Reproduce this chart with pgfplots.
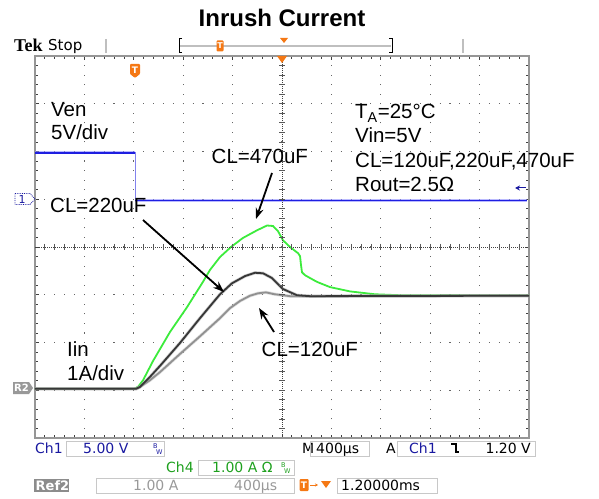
\documentclass[border=0pt]{standalone}
\usepackage{fontspec}
\setmainfont{Liberation Sans}
\newfontfamily\scopefont{DejaVu Sans}
\newfontfamily\tekfont{Liberation Serif}
\usepackage{pgfplots}
\pgfplotsset{compat=1.18}
\usetikzlibrary{arrows.meta}

\definecolor{venblue}{RGB}{30,30,225}
\definecolor{venhalo}{RGB}{140,140,255}
\definecolor{cl470}{RGB}{60,235,60}
\definecolor{cl220}{RGB}{55,55,55}
\definecolor{cl120}{RGB}{145,145,145}
\definecolor{chblue}{RGB}{25,25,160}
\definecolor{chgreen}{RGB}{30,160,30}
\definecolor{scopeorange}{RGB}{245,120,20}
\definecolor{framegray}{RGB}{150,150,150}
\definecolor{boxgray}{RGB}{200,200,200}

\newcommand{\ann}{\fontsize{20.5}{24}\selectfont}
\newcommand{\scp}{\scopefont\fontsize{14}{16}\selectfont}

\pgfplotstableread{
t i
-0.8 0
0.00 0
0.034 0.04
0.075 0.18
0.155 0.58
0.293 1.19
0.431 1.71
0.560 2.24
0.617 2.49
0.698 2.76
0.787 2.97
0.884 3.16
0.998 3.32
1.079 3.42
1.127 3.41
1.168 3.30
1.208 3.11
1.265 2.97
1.330 2.84
1.346 2.78
1.354 2.59
1.362 2.44
1.386 2.38
1.427 2.32
1.483 2.24
1.589 2.13
1.751 2.04
1.953 1.98
2.156 1.96
3.2 1.96
}\cfourseventy

\pgfplotstableread{
t i
-0.8 0
0.018 0
0.050 0.04
0.131 0.25
0.212 0.48
0.374 0.96
0.536 1.48
0.698 1.98
0.795 2.21
0.900 2.36
0.981 2.43
1.046 2.42
1.119 2.32
1.208 2.09
1.321 1.96
1.427 1.94
3.2 1.95
}\ctwotwenty

\pgfplotstableread{
t i
-0.8 0
0.018 0
0.050 0.04
0.131 0.18
0.212 0.35
0.374 0.73
0.536 1.10
0.698 1.48
0.779 1.69
0.860 1.84
0.941 1.95
1.006 2.00
1.070 2.02
1.143 1.98
1.265 1.94
1.346 1.94
3.2 1.95
}\conetwenty

\begin{document}
\begin{tikzpicture}
\useasboundingbox (0,0) rectangle (599pt,498pt);

% current traces, 1 A/div, time in ms (400 us/div)
\begin{axis}[
  at={(35pt,60pt)}, anchor=south west,
  width=494pt, height=382pt, scale only axis,
  xmin=-0.8, xmax=3.2, ymin=-1.03, ymax=6.97,
  xtick={-0.8,-0.4,0,0.4,0.8,1.2,1.6,2.0,2.4,2.8,3.2},
  ytick={-1.03,-0.03,0.97,1.97,2.97,3.97,4.97,5.97,6.97},
  minor x tick num=4, minor y tick num=4,
  xticklabels={}, yticklabels={},
  tick align=inside,
  major tick length=3.5pt, minor tick length=3pt,
  tick style={black!75, line width=0.8pt},
  axis line style={framegray, line width=2.5pt},
  xmajorgrids, ymajorgrids,
  x grid style={black!60, line width=1.1pt, dash pattern=on 1.1pt off 8.45pt, dash phase=0.55pt},
  y grid style={black!60, line width=1.1pt, dash pattern=on 1.1pt off 8.78pt, dash phase=0.55pt},
]
% CL=470uF
\addplot[cl470, line width=1.8pt] table[x=t, y=i] {\cfourseventy};
% CL=120uF
\addplot[cl120!60, line width=3.2pt, opacity=0.5] table[x=t, y=i] {\conetwenty};
\addplot[cl120, line width=1.8pt] table[x=t, y=i] {\conetwenty};
% CL=220uF
\addplot[cl220!50, line width=3.2pt, opacity=0.5] table[x=t, y=i] {\ctwotwenty};
\addplot[cl220, line width=1.8pt] table[x=t, y=i] {\ctwotwenty};
\end{axis}

% enable voltage, 5 V/div
\begin{axis}[
  at={(35pt,60pt)}, anchor=south west,
  width=494pt, height=382pt, scale only axis,
  xmin=-0.8, xmax=3.2, ymin=-24.88, ymax=15.12,
  hide axis,
]
\addplot[venblue!55, line width=0.8pt] table {
-0.8 4.98
0.01 4.98
0.01 0
3.184 0
};
\addplot[venhalo, line width=3.2pt, opacity=0.6] table {
-0.8 4.98
0.01 4.98
};
\addplot[venhalo, line width=3.2pt, opacity=0.6] table {
0.01 0
3.184 0
};
\addplot[venblue, line width=1.5pt] table {
-0.8 4.98
0.01 4.98
};
\addplot[venblue, line width=1.5pt] table {
0.01 0
3.184 0
};
\end{axis}

% everything else in screen pixels, y downwards
\begin{scope}[x=1pt, y=-1pt, shift={(0pt,498pt)}]
  % centre cross of the graticule
  \draw[black!75, line width=0.9pt, dash pattern=on 1pt off 1pt] (35,247) -- (529,247);
  \draw[black!75, line width=0.9pt, dash pattern=on 1pt off 1pt] (282,56) -- (282,438);
  \foreach \i in {1,...,49}
    \draw[black!65, line width=0.8pt] ({35+\i*9.88},244) -- ({35+\i*9.88},250);
  \foreach \i in {1,...,39}
    \draw[black!65, line width=0.8pt] (279,{56+\i*9.55}) -- (285,{56+\i*9.55});

  % title
  \node[anchor=base, inner sep=0, font=\fontsize{24}{28}\selectfont\bfseries] at (282,27) {Inrush Current};

  % top status bar
  \node[anchor=base west, inner sep=0, font={\tekfont\bfseries\fontsize{18}{20}\selectfont}] at (14,52) {Tek};
  \node[anchor=base west, inner sep=0, font={\scopefont\fontsize{15}{18}\selectfont}] at (48,51) {Stop};
  \draw[black!25, line width=1.2pt] (106,39) -- (106,53);
  \draw[black!25, line width=1.2pt] (463,39) -- (463,53);
  \draw[black!25, line width=1.6pt] (180,46) -- (391,46);
  \draw[black, line width=1pt] (182,39) -- (179,39) -- (179,53) -- (182,53);
  \draw[black, line width=1pt] (389,39) -- (392,39) -- (392,53) -- (389,53);
  \node[fill=scopeorange, text=white, rounded corners=1pt, inner sep=0pt, minimum width=7pt, minimum height=11pt,
        font={\scopefont\bfseries\fontsize{8}{8}\selectfont}] at (220,46) {T};
  \fill[scopeorange] (280,38) -- (288,38) -- (284,43) -- cycle;
  \fill[scopeorange] (277,56) -- (287,56) -- (282,63) -- cycle;
  \fill[scopeorange, rounded corners=1pt] (130,64) -- (140,64) -- (140,74) -- (135,78) -- (130,74) -- cycle;
  \node[text=white, inner sep=0, font={\scopefont\bfseries\fontsize{9}{9}\selectfont}] at (135,70) {T};

  % channel markers
  \draw[chblue, densely dotted, line width=0.8pt] (15,193.5) -- (30,193.5) -- (35,199) -- (30,204.5) -- (15,204.5) -- cycle;
  \node[text=chblue, inner sep=0, font={\scopefont\fontsize{11}{11}\selectfont}] at (22,199) {1};
  \fill[black!40] (13,382) -- (29,382) -- (33,388) -- (29,394) -- (13,394) -- cycle;
  \node[text=white, inner sep=0, font={\scopefont\bfseries\fontsize{10}{10}\selectfont}] at (21.5,388) {R2};
  \draw[chblue, line width=1pt, -{Stealth[length=5pt,width=5pt]}] (526,188) -- (515,188);

  % annotations
  \node[anchor=base west, inner sep=0, font=\ann] at (51,116.5) {Ven};
  \node[anchor=base west, inner sep=0, font=\ann] at (51,140) {5V/div};
  \node[anchor=base west, inner sep=0, font=\ann] at (211.5,163.3) {CL=470uF};
  \node[anchor=base west, inner sep=0, font=\ann] at (50,212.7) {CL=220uF};
  \node[anchor=base west, inner sep=0, font=\ann] at (261.5,356) {CL=120uF};
  \node[anchor=base west, inner sep=0, font=\ann] at (67,356) {Iin};
  \node[anchor=base west, inner sep=0, font=\ann] at (67,380) {1A/div};
  \node[anchor=base west, inner sep=0, font=\ann] at (355,119) {T\textsubscript{A}=25°C};
  \node[anchor=base west, inner sep=0, font=\ann] at (355,142.7) {Vin=5V};
  \node[anchor=base west, inner sep=0, font=\ann] at (355,167.3) {CL=120uF,220uF,470uF};
  \node[anchor=base west, inner sep=0, font=\ann] at (355,191.7) {Rout=2.5Ω};
  \draw[black, line width=1.8pt, -{Stealth[length=11pt,width=8pt]}] (272,173) -- (256,219);
  \draw[black, line width=1.8pt, -{Stealth[length=11pt,width=8pt]}] (143,220) -- (224,292);
  \draw[black, line width=1.8pt, -{Stealth[length=11pt,width=8pt]}] (274,332) -- (259,308);

  % bottom readouts
  \node[anchor=base west, inner sep=0, text=chblue, font=\scp] at (35,453) {Ch1};
  \draw[boxgray, line width=1pt] (66,441) rectangle (164,456);
  \node[anchor=base west, inner sep=0, text=chblue, font=\scp] at (83,453) {5.00 V};
  \node[anchor=base west, inner sep=0, text=chblue, font={\scopefont\fontsize{6.5}{7}\selectfont}] at (153,448) {B};
  \node[anchor=base west, inner sep=0, text=chblue, font={\scopefont\fontsize{6.5}{7}\selectfont}] at (156,454) {W};
  \node[anchor=base west, inner sep=0, font=\scp] at (302,453) {M};
  \draw[boxgray, line width=1pt] (310,441) rectangle (369,456);
  \node[anchor=base west, inner sep=0, font=\scp] at (316,453) {400µs};
  \node[anchor=base west, inner sep=0, font=\scp] at (386,453) {A};
  \draw[boxgray, line width=1pt] (397,441) rectangle (535,456);
  \node[anchor=base west, inner sep=0, text=chblue, font=\scp] at (409,453) {Ch1};
  \draw[black, line width=1.3pt] (451,444) -- (456,444) -- (456,452) -- (459,452);
  \node[anchor=base east, inner sep=0, font=\scp] at (531,453) {1.20 V};

  \node[anchor=base west, inner sep=0, text=chgreen, font=\scp] at (166,472) {Ch4};
  \draw[boxgray, line width=1pt] (198,460) rectangle (294,475);
  \node[anchor=base west, inner sep=0, text=chgreen, font=\scp] at (212,472) {1.00 A Ω};
  \node[anchor=base west, inner sep=0, text=chgreen, font={\scopefont\fontsize{6.5}{7}\selectfont}] at (281,467) {B};
  \node[anchor=base west, inner sep=0, text=chgreen, font={\scopefont\fontsize{6.5}{7}\selectfont}] at (284,473) {W};

  \fill[black!45] (34,479) rectangle (69,492);
  \node[anchor=base west, inner sep=0, text=white, font={\scopefont\bfseries\fontsize{13}{14}\selectfont}] at (35.5,490) {Ref2};
  \draw[boxgray, line width=1pt] (96.5,478) rectangle (294,493);
  \node[anchor=base west, inner sep=0, text=black!40, font=\scp] at (133,490) {1.00 A};
  \node[anchor=base west, inner sep=0, text=black!40, font=\scp] at (234,490) {400µs};
  \node[fill=scopeorange, text=white, rounded corners=1pt, inner sep=0pt, minimum width=9pt, minimum height=12pt,
        font={\scopefont\bfseries\fontsize{9}{9}\selectfont}] at (304,485) {T};
  \draw[scopeorange, line width=1pt, -{Stealth[length=3pt,width=3pt]}] (310,485) -- (318,485);
  \fill[scopeorange] (321,481) -- (331,481) -- (326,488) -- cycle;
  \draw[boxgray, line width=1pt] (337,478) rectangle (437,493);
  \node[anchor=base west, inner sep=0, font=\scp] at (341,490) {1.20000ms};
\end{scope}
\end{tikzpicture}
\end{document}
